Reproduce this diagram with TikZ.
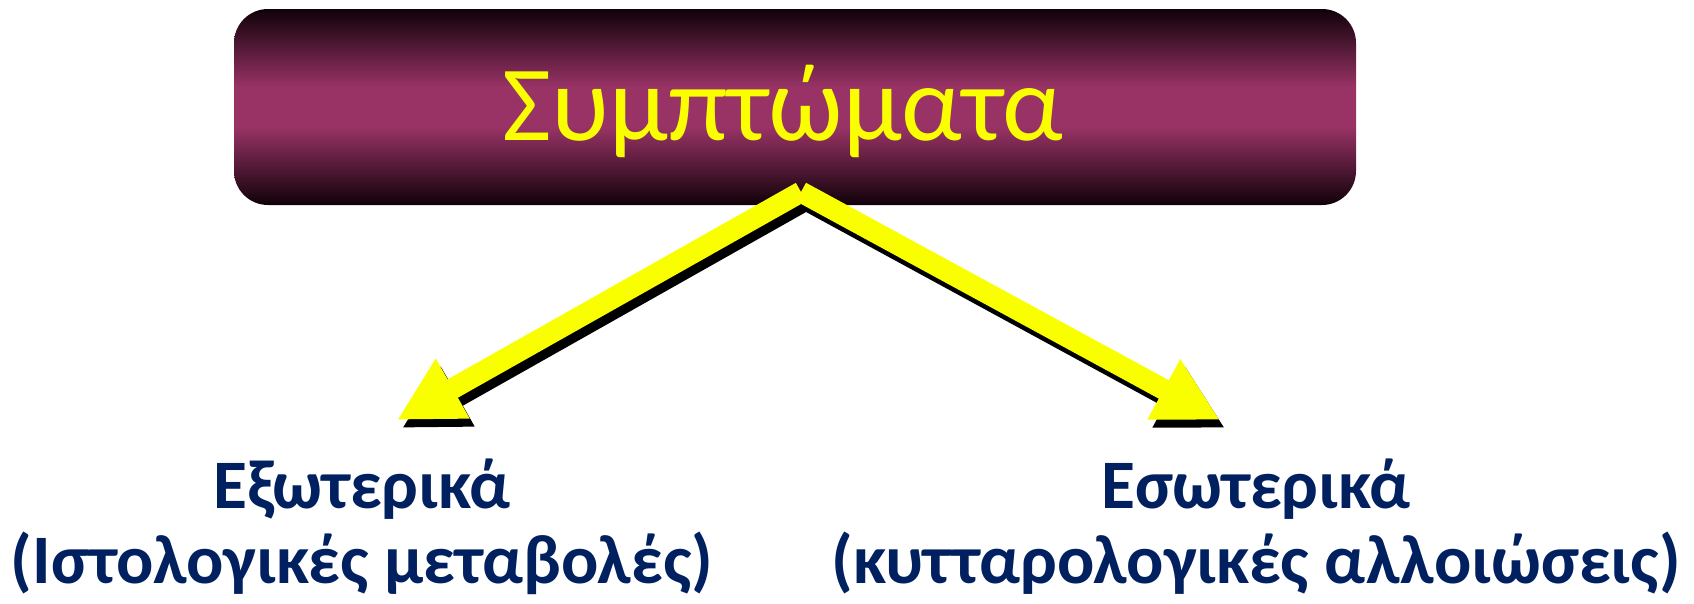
\documentclass[tikz,border=0pt]{standalone}
\usepackage{fontspec}
\setmainfont{Carlito}
\usetikzlibrary{arrows.meta}
\definecolor{boxedge}{RGB}{16,1,9}
\definecolor{boxmid}{RGB}{153,51,102}
\definecolor{arrowyellow}{RGB}{250,255,0}
\definecolor{labelblue}{RGB}{0,32,96}
\pgfdeclareverticalshading{boxshade}{100bp}{color(0bp)=(boxedge); color(25bp)=(boxedge); color(45bp)=(boxmid); color(55bp)=(boxmid); color(75bp)=(boxedge); color(100bp)=(boxedge)}
\tikzset{
  titlebox/.style={rounded corners=34pt, minimum width=1122pt, minimum height=196pt,
    shade, shading=boxshade, inner sep=0pt},
  titletext/.style={text=arrowyellow, font=\fontsize{107}{112}\selectfont, inner sep=0pt},
  labeltext/.style={text=labelblue, font=\fontsize{69.5}{75}\selectfont\bfseries, inner sep=0pt, anchor=base},
  bigarrow/.style={line width=21pt, line cap=butt, -{Triangle[length=64pt,width=64pt]}},
  yellowarrow/.style={bigarrow, draw=arrowyellow, fill=arrowyellow},
  shadowarrow/.style={bigarrow, draw=black, fill=black, transform canvas={shift={(5pt,-8pt)}}},
}
\begin{document}
\begin{tikzpicture}[x=1pt,y=-1pt]
\useasboundingbox (0,0) rectangle (1694,603);
\node[titlebox] (sym) at (795,107) {};
\node[titletext] (symtext) at (783,111) {Συμπτώματα};
\coordinate (apex) at (801,192);
\coordinate (ltip) at (397,420);
\coordinate (rtip) at (1220,420);
\draw[shadowarrow] (apex) -- (ltip);
\draw[shadowarrow] (apex) -- (rtip);
\draw[yellowarrow] (apex) -- (ltip);
\draw[yellowarrow] (apex) -- (rtip);
\node[labeltext] (ext1) at (362,508) {Εξωτερικά};
\node[labeltext] (ext2) at (362,583) {(Ιστολογικές μεταβολές)};
\node[labeltext] (int1) at (1256,508) {Εσωτερικά};
\node[labeltext] (int2) at (1256,583) {(κυτταρολογικές αλλοιώσεις)};
\end{tikzpicture}
\end{document}
